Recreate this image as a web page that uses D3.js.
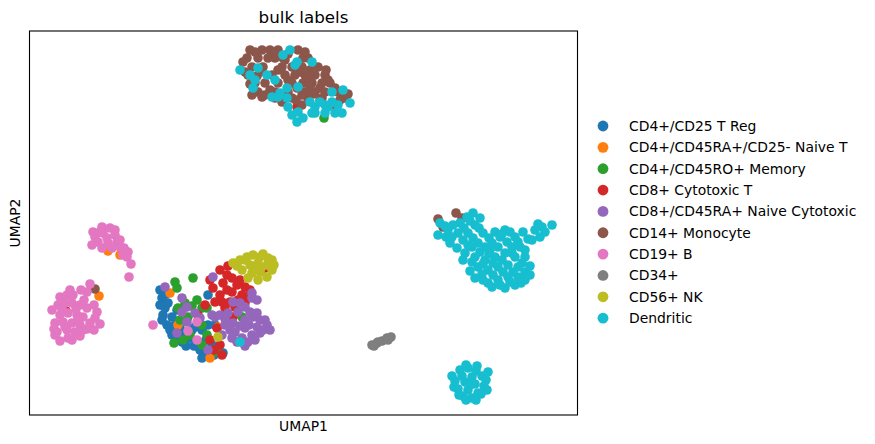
<!DOCTYPE html>
<html>
<head>
<meta charset="utf-8">
<script src="https://cdn.jsdelivr.net/npm/d3@7"></script>
<style>
  body { margin: 0; background: #fff; }
  text { font-family: "DejaVu Sans", sans-serif; fill: #000; }
</style>
</head>
<body>
<div id="chart"></div>
<script>
// categories and colours (tab10)
const categories = ["CD4+/CD25 T Reg", "CD4+/CD45RA+/CD25- Naive T", "CD4+/CD45RO+ Memory",
  "CD8+ Cytotoxic T", "CD8+/CD45RA+ Naive Cytotoxic", "CD14+ Monocyte", "CD19+ B",
  "CD34+", "CD56+ NK", "Dendritic"];
const palette = ["#1f77b4", "#ff7f0e", "#2ca02c", "#d62728", "#9467bd",
  "#8c564b", "#e377c2", "#7f7f7f", "#bcbd22", "#17becf"];

// UMAP coordinates, one array per label
const tReg = [[-14.0,1.0],[-13.8,0.2],[-14.0,-0.5],[-9.2,0.5],[-13.7,-1.5],[-12.8,-1.7],[-13.3,-2.5],
  [-12.5,-2.5],[-12.8,-3.5],[-11.8,-3.2],[-10.8,-3.0],[-9.8,-3.0],[-10.2,-4.2],[-10.0,-5.0],
  [-11.0,-3.8],[-9.2,-2.5],[-8.5,-2.5],[-7.7,-5.3],[-9.5,-5.5],[-8.8,-4.5],[-11.8,-4.2],
  [-12.3,-1.0],[-13.5,-0.8],
  [-13.4,0.6],[-13.2,-0.3],[-13.0,-3.0],[-12.2,-3.7],[-11.4,-4.6],[-10.6,-4.6],[-9.4,-4.0],
  [-8.6,-5.5],[-12.0,-2.8],[-13.8,-2.0],[-10.5,-2.7],[-9.8,-5.8]];
const naiveT = [[-19.2,4.9],[-18.0,4.5],[-20.1,0.4],[-13.0,0.7],[-12.2,-2.5],[-9.0,-5.8],[-8.2,-2.7]];
const memory = [[-12.5,1.8],[-10.7,2.2],[-10.3,0.0],[-9.8,-0.8],[-12.2,-0.8],[-9.3,-0.8],[-11.2,-1.7],
  [-9.8,-2.5],[-9.3,-3.5],[-11.7,-4.0],[-11.0,-3.5],[-8.3,-5.2],[-5.8,-1.7],[-12.3,1.2],[-12.0,-2.0],
  [-11.5,-0.3],[-10.8,-0.6],[-9.8,-4.5],[-12.6,-4.3],
  [2.4,18.2]];
const cytotoxic = [[-0.3,19.3],[-23.4,-1.1],[-8.0,3.0],[-9.0,2.0],[-7.7,1.7],[-6.8,2.2],[-6.3,1.5],
  [-5.5,1.3],[-6.8,0.8],[-5.8,0.5],[-5.0,1.0],[-8.0,0.5],[-8.5,-0.2],[-9.5,-0.5],[-7.5,-0.8],
  [-6.5,-0.7],[-5.5,-0.3],[-10.2,-1.5],[-6.7,-1.7],[-8.3,-2.8],[-9.0,-4.0],[-8.0,-4.5],[-7.8,-5.5],
  [-3.5,3.2],
  [-7.3,2.5],[-6.0,2.0],[-7.3,1.0],[-6.2,0.0],[-7.0,-0.2],[-5.2,0.3],[-8.7,1.2],[-7.8,-0.2],
  [-7.2,3.4],[-8.6,-5.0]];
const naiveCyto = [[-8.7,2.3],[-13.5,1.3],[-11.8,0.2],[-11.3,-0.7],[-10.5,-1.3],[-8.8,-1.5],[-8.0,-1.5],
  [-7.2,-1.3],[-6.2,-1.2],[-5.5,-0.7],[-4.8,0.2],[-4.8,0.7],[-6.7,-0.2],[-11.3,-2.2],[-12.3,-3.3],
  [-9.2,-5.0],[-7.5,-2.5],[-6.7,-2.3],[-5.5,-2.0],[-4.7,-1.7],[-4.0,-2.0],[-3.3,-2.5],[-4.3,-2.7],
  [-5.5,-2.8],[-6.5,-3.2],[-4.8,-3.5],[-4.0,-3.3],[-5.8,-3.8],[-7.0,-3.0],[-7.8,-3.5],[-6.3,-4.2],
  [-5.2,-4.2],[-8.5,-1.7],
  [-5.0,-1.2],[-4.3,-1.3],[-3.5,-2.0],[-3.7,-3.0],[-5.1,-2.5],[-6.0,-2.6],[-6.8,-3.8],[-4.5,-4.0],
  [-5.5,-4.6],[-6.0,-0.3],[-4.3,0.0],[-7.5,-1.9],[-3.0,-3.0],[-10.0,-1.8],[-11.8,-1.2]];
const monocyte = [[-5.0,25.0],[-3.8,25.0],[-3.0,25.0],[-2.2,25.0],[-0.2,25.0],
  [-5.3,24.2],[-4.2,24.2],[-3.2,24.2],[-2.5,24.2],[-1.7,24.2],[0.3,24.2],[0.8,24.2],
  [-4.8,23.3],[-3.7,23.3],[-1.8,23.3],[-0.8,23.3],[0.2,23.3],[1.8,23.3],
  [-5.2,22.5],[-2.8,22.5],[-1.5,22.5],[-0.5,22.5],[0.5,22.5],[1.5,22.5],[2.5,22.5],
  [-4.5,21.7],[-3.5,21.7],[-2.2,21.7],[-0.8,21.7],[0.3,21.7],[1.2,21.7],[2.2,21.7],[3.0,21.7],
  [-4.2,20.8],[-2.5,20.8],[-1.2,20.8],[0.5,20.8],[1.5,20.8],[2.5,20.8],[3.8,20.8],
  [-2.5,20.2],[-0.8,20.2],[0.8,20.2],[2.2,20.2],[4.5,20.2],[0.2,19.5],
  [-5.7,23.8],[-5.5,22.8],[-4.8,20.5],[-3.8,20.3],[-1.5,24.0],[-0.3,21.2],[-3.0,21.0],
  [1.0,22.2],[2.0,20.0],[3.5,19.5],
  [-4.5,24.8],[-2.6,24.7],[-1.2,24.6],[0.5,24.8],[-4.0,22.8],[-2.2,23.0],[-1.2,22.0],[0.0,22.8],
  [1.0,23.0],[2.0,21.2],[3.5,21.2],[-3.5,20.5],[-1.8,19.8],[0.2,20.5],[1.0,21.3],[2.8,22.0],
  [4.0,20.0],[-5.0,21.6],[-4.3,22.4],[1.3,20.6],[2.6,23.0],[4.8,20.6],[-0.4,20.0],
  [15.6,8.7],[13.8,8.1],[14.3,7.3],[16.2,8.2],[-20.5,1.1]];
const bCells = [[-20.7,6.8],[-20.5,6.3],[-19.8,7.3],[-19.7,6.7],[-19.0,7.2],[-20.2,5.8],[-19.3,6.2],
  [-18.5,6.5],[-18.3,5.8],[-19.8,5.2],[-18.8,5.2],[-18.0,5.3],[-17.2,4.8],[-17.7,4.5],[-17.3,4.3],
  [-16.9,3.6],[-17.1,2.3],
  [-20.0,6.8],[-19.2,5.7],[-18.5,7.0],[-20.8,5.5],[-18.0,6.0],[-17.6,5.2],
  [-21.0,1.6],[-21.3,0.8],[-24.0,0.3],[-23.3,0.5],[-22.7,0.5],[-24.2,-0.5],[-23.5,-0.3],[-22.8,-0.3],
  [-22.0,-0.5],[-21.3,-0.8],[-20.3,-1.2],[-24.0,-1.5],[-23.2,-1.3],[-22.3,-1.5],[-21.7,-1.7],
  [-24.5,-2.3],[-23.7,-2.2],[-22.8,-2.3],[-22.0,-2.5],[-21.0,-2.3],[-20.0,-2.4],[-24.3,-3.2],
  [-23.3,-3.0],[-22.5,-3.2],[-21.7,-3.0],[-23.2,-3.8],[-24.5,-3.5],
  [-23.8,-0.9],[-22.4,-0.9],[-21.6,0.0],[-20.6,-0.5],[-24.8,-1.0],[-23.5,-2.7],[-22.2,-2.0],
  [-21.3,-2.9],[-20.5,-1.8],[-24.0,-4.1],[-22.0,-3.6],[-22.8,-4.0],[-24.6,-2.9],[-23.0,1.0],
  [-21.9,1.0],[-20.6,-3.0],
  [-14.7,-2.5],[-10.3,-2.2],[-11.2,-3.1],[-10.3,-4.0]];
const cd34 = [[7.2,-4.5],[7.7,-4.3],[8.2,-4.1],[8.7,-3.8],[9.1,-3.7],[7.8,-4.2],[8.8,-4.0],[7.4,-4.6]];
const nk = [[-6.7,3.7],[-6.0,4.0],[-5.3,4.3],[-4.7,4.5],[-4.0,4.3],[-3.2,4.2],[-5.8,3.0],[-5.0,3.5],
  [-4.2,3.7],[-3.3,3.5],[-2.8,3.0],[-4.8,2.7],[-4.0,2.8],[-3.3,2.3],[-4.2,2.0],[-5.2,2.2],
  [-5.5,4.0],[-3.7,4.6],[-2.8,4.0],[-3.9,3.2],[-6.3,3.4],[-4.6,3.2],[-2.6,3.5],
  [-8.2,-3.7]];
const dendritic = [[-6.0,23.0],[-5.0,22.5],[-4.5,22.0],[-4.2,23.2],[-3.3,22.5],[-2.5,22.0],[-4.7,21.2],
  [-1.7,24.5],[-1.0,25.0],[-0.3,23.8],[-0.5,23.5],[1.2,23.8],[-0.2,21.3],[-1.3,21.2],[-2.0,20.7],
  [-2.8,20.3],[-2.2,20.3],[-1.3,20.2],[-1.2,19.3],[-0.8,18.5],[-0.3,17.8],[0.3,18.2],[-0.2,18.8],
  [1.0,19.8],[1.5,19.3],[2.0,19.8],[2.5,19.5],[3.2,19.8],[3.8,19.5],[4.3,21.0],[3.2,20.8],
  [3.5,18.7],[4.2,18.7],[5.0,19.7],[1.5,18.7],[2.5,18.7],[1.2,18.7],[2.8,19.3],
  [14.0,7.7],[13.8,6.5],[14.8,7.0],[15.0,5.7],[15.8,6.7],[16.0,7.7],[16.7,8.3],[17.3,8.7],
  [17.5,7.5],[16.8,6.7],[18.0,8.2],[18.3,6.7],[17.8,5.7],[16.5,4.7],[17.2,5.3],[17.5,4.3],
  [18.5,5.3],[19.2,5.7],[19.5,6.8],[20.5,7.0],[20.7,5.8],[21.5,6.3],[22.3,6.8],[22.0,5.3],
  [22.5,4.3],[21.5,4.3],[20.5,4.7],[19.5,4.3],[18.5,4.0],[17.8,3.3],[18.8,3.0],[19.8,3.3],
  [20.8,3.5],[21.8,3.3],[22.5,2.8],[21.8,2.3],[20.8,2.3],[19.8,2.0],[18.8,1.7],[17.5,2.2],
  [19.2,1.3],[20.5,1.2],[21.5,1.5],[22.5,2.0],[23.5,7.0],[24.2,7.3],[25.2,7.5],[24.0,6.3],
  [24.5,6.8],[20.0,6.3],[19.0,5.0],[21.2,5.3],
  [14.5,7.4],[15.3,7.5],[15.2,6.3],[16.3,6.0],[16.4,7.2],[17.0,7.9],[17.9,7.2],[17.3,6.2],
  [18.9,6.2],[18.0,4.8],[16.8,5.5],[18.9,4.6],[19.8,5.3],[20.2,6.6],[21.0,6.8],[21.8,5.8],
  [22.8,6.1],[22.5,5.0],[21.2,4.7],[20.2,4.0],[19.3,3.7],[18.3,3.6],[17.2,3.8],[18.2,2.6],
  [19.3,2.5],[20.3,2.8],[21.3,2.8],[22.2,3.7],[23.0,3.4],[23.0,2.5],[22.1,1.7],[21.0,1.8],
  [20.0,1.5],[18.3,2.0],[17.0,2.9],[16.3,4.0],[15.7,5.2],[14.6,6.3],[23.2,6.0],[23.8,7.6],
  [16.8,-6.8],[17.6,-7.1],[16.2,-7.6],[17.2,-7.7],[18.2,-7.6],[15.5,-8.1],[16.5,-8.2],[17.5,-8.4],
  [18.4,-8.6],[15.8,-8.9],[16.8,-9.0],[17.8,-9.3],[16.3,-9.6],[17.2,-9.8],[18.1,-9.4],[15.4,-8.7],
  [16.6,-6.5],[17.0,-8.5],
  [16.0,-7.0],[17.7,-6.6],[18.6,-8.0],[15.9,-9.5],[17.6,-10.0],[16.6,-10.0],[15.2,-7.6],
  [18.8,-7.2],[18.7,-9.0],
  [-6.0,-4.2]];

const groups = [tReg, naiveT, memory, cytotoxic, naiveCyto, monocyte, bCells, cd34, nk, dendritic];

const svgWidth = 875;
const svgHeight = 444;
const margin = {top: 31, right: 297.5, bottom: 29, left: 29.5};
const graphWidth = svgWidth - margin.left - margin.right;
const graphHeight = svgHeight - margin.top - margin.bottom;

const svg = d3.select("#chart")
  .append("svg")
  .attr("width", svgWidth)
  .attr("height", svgHeight);

const graph = svg.append("g")
  .attr("transform", `translate(${margin.left}, ${margin.top})`);

const x = d3.scaleLinear().domain([-27.05, 27.75]).range([0, graphWidth]);
const y = d3.scaleLinear().domain([-11.5, 26.9]).range([graphHeight, 0]);

const points = groups.flatMap((g, i) => g.map(d => ({u1: d[0], u2: d[1], cat: i})));

graph.selectAll(".dot")
  .data(points)
  .enter()
  .append("circle")
  .attr("class", "dot")
  .attr("cx", d => x(d.u1))
  .attr("cy", d => y(d.u2))
  .attr("r", 4.8)
  .attr("fill", d => palette[d.cat]);

// frame
graph.append("rect")
  .attr("width", graphWidth)
  .attr("height", graphHeight)
  .attr("fill", "none")
  .attr("stroke", "#000")
  .attr("stroke-width", 1.1);

// title and axis labels
svg.append("text")
  .attr("x", margin.left + graphWidth / 2)
  .attr("y", 23)
  .attr("text-anchor", "middle")
  .style("font-size", "16.7px")
  .text("bulk labels");

svg.append("text")
  .attr("x", margin.left + graphWidth / 2)
  .attr("y", 431)
  .attr("text-anchor", "middle")
  .style("font-size", "13.9px")
  .text("UMAP1");

svg.append("text")
  .attr("transform", `translate(20, ${margin.top + graphHeight / 2}) rotate(-90)`)
  .attr("text-anchor", "middle")
  .style("font-size", "13.9px")
  .text("UMAP2");

// legend
const legend = svg.append("g").attr("transform", "translate(603, 126)");
const rows = legend.selectAll(".row")
  .data(categories)
  .enter()
  .append("g")
  .attr("transform", (d, i) => `translate(0, ${i * 21.35})`);

rows.append("circle")
  .attr("r", 5.4)
  .attr("fill", (d, i) => palette[i]);

rows.append("text")
  .attr("x", 26)
  .attr("dy", "0.36em")
  .style("font-size", "13.9px")
  .text(d => d);
</script>
</body>
</html>
